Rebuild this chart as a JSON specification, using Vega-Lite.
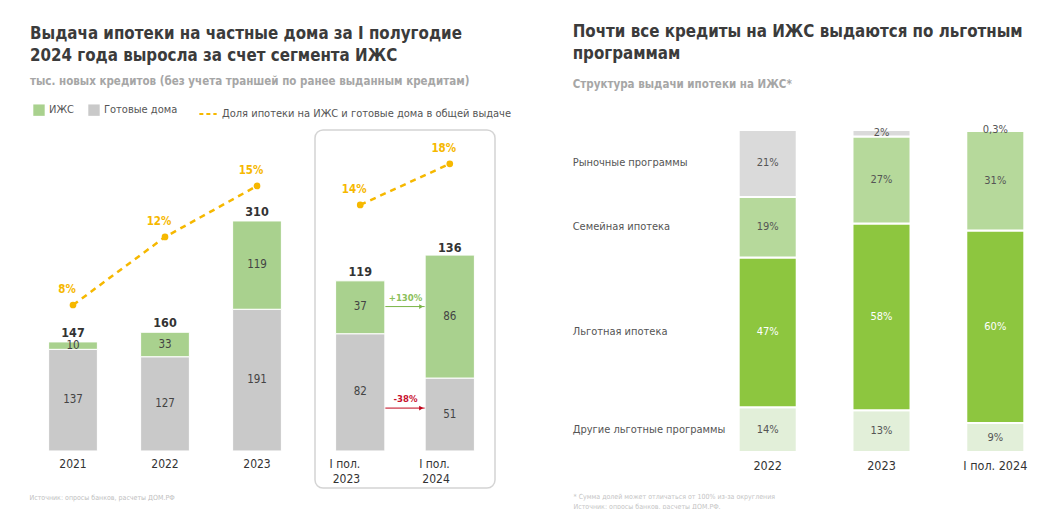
{
  "$schema": "https://vega.github.io/schema/vega-lite/v6.json",
  "padding": {"left": 27, "top": 24, "right": 0, "bottom": 0},
  "background": "white",
  "config": {
    "font": "DejaVu Sans Condensed",
    "view": {"stroke": null},
    "locale": {"number": {"decimal": ",", "thousands": "\u00a0", "grouping": [3], "currency": ["", " ₽"]}},
    "axis": {"labelFont": "DejaVu Sans Condensed", "titleFont": "DejaVu Sans Condensed"},
    "legend": {"labelFont": "DejaVu Sans Condensed", "labelLimit": 400, "offset": 4, "padding": 6},
    "title": {"font": "DejaVu Sans Condensed", "subtitleFont": "DejaVu Sans Condensed"},
    "text": {"font": "DejaVu Sans Condensed"}
  },
  "datasets": {
    "volumes": [
      {"period": "2021", "group": "year", "type": "Готовые дома", "value": 137},
      {"period": "2021", "group": "year", "type": "ИЖС", "value": 10},
      {"period": "2022", "group": "year", "type": "Готовые дома", "value": 127},
      {"period": "2022", "group": "year", "type": "ИЖС", "value": 33},
      {"period": "2023", "group": "year", "type": "Готовые дома", "value": 191},
      {"period": "2023", "group": "year", "type": "ИЖС", "value": 119},
      {"period": "I пол. 2023", "group": "half", "type": "Готовые дома", "value": 82},
      {"period": "I пол. 2023", "group": "half", "type": "ИЖС", "value": 37},
      {"period": "I пол. 2024", "group": "half", "type": "Готовые дома", "value": 51},
      {"period": "I пол. 2024", "group": "half", "type": "ИЖС", "value": 86}
    ],
    "totals": [
      {"period": "2021", "group": "year", "total": 147, "share": 0.08},
      {"period": "2022", "group": "year", "total": 160, "share": 0.12},
      {"period": "2023", "group": "year", "total": 310, "share": 0.15},
      {"period": "I пол. 2023", "group": "half", "total": 119, "share": 0.14},
      {"period": "I пол. 2024", "group": "half", "total": 136, "share": 0.18}
    ],
    "changes": [
      {"from": "I пол. 2023", "to": "I пол. 2024", "label": "+130%", "change": 130, "level": 101},
      {"from": "I пол. 2023", "to": "I пол. 2024", "label": "-38%", "change": -38, "level": 30}
    ],
    "structure": [
      {"period": "2022", "type": "Другие льготные программы", "rank": 1, "share": 0.14},
      {"period": "2022", "type": "Льготная ипотека", "rank": 2, "share": 0.47},
      {"period": "2022", "type": "Семейная ипотека", "rank": 3, "share": 0.19},
      {"period": "2022", "type": "Рыночные программы", "rank": 4, "share": 0.21},
      {"period": "2023", "type": "Другие льготные программы", "rank": 1, "share": 0.13},
      {"period": "2023", "type": "Льготная ипотека", "rank": 2, "share": 0.58},
      {"period": "2023", "type": "Семейная ипотека", "rank": 3, "share": 0.27},
      {"period": "2023", "type": "Рыночные программы", "rank": 4, "share": 0.02},
      {"period": "I пол. 2024", "type": "Другие льготные программы", "rank": 1, "share": 0.09},
      {"period": "I пол. 2024", "type": "Льготная ипотека", "rank": 2, "share": 0.60},
      {"period": "I пол. 2024", "type": "Семейная ипотека", "rank": 3, "share": 0.31},
      {"period": "I пол. 2024", "type": "Рыночные программы", "rank": 4, "share": 0.003}
    ]
  },
  "spacing": 54,
  "resolve": {"scale": {"color": "independent", "stroke": "independent"}, "legend": {"color": "independent", "stroke": "independent"}},
  "hconcat": [
    {
      "title": {
        "text": ["Выдача ипотеки на частные дома за I полугодие", "2024 года выросла за счет сегмента ИЖС"],
        "subtitle": "тыс. новых кредитов (без учета траншей по ранее выданным кредитам)",
        "anchor": "start", "frame": "bounds", "dx": 3,
        "fontSize": 16.8, "fontWeight": "bold", "color": "#3b3b3b", "lineHeight": 22,
        "subtitleFontSize": 11.5, "subtitleFontWeight": "bold", "subtitleColor": "#a6a6a6", "subtitlePadding": 11,
        "offset": 11
      },
      "spacing": 11,
      "hconcat": [
        {
          "width": 276, "height": 358,
          "resolve": {"scale": {"y": "independent"}},
          "layer": [
            {
              "layer": [
                {
                  "data": {"name": "volumes"},
                  "transform": [{"filter": "datum.group == 'year'"}],
                  "layer": [
                    {
                      "mark": {"type": "bar", "stroke": "white", "strokeWidth": 1},
                      "encoding": {
                        "x": {"field": "period", "type": "nominal", "sort": null,
                          "scale": {"domain": ["2021", "2022", "2023"], "paddingInner": 0.47, "paddingOuter": 0.235},
                          "axis": {"orient": "bottom", "offset": -37, "domain": false, "ticks": false, "labelPadding": 7, "labelFontSize": 12, "labelColor": "#333", "labelAngle": 0,
                            "title": "Источник: опросы банков, расчеты ДОМ.РФ", "titleFontSize": 7, "titleColor": "#c0c0c0", "titleFontWeight": "normal", "titleAnchor": "start", "titleAlign": "left", "titleX": 2, "titleY": 42, "titleBaseline": "top"}},
                        "y": {"field": "value", "type": "quantitative", "stack": "zero", "scale": {"domain": [-49.9, 432.6]}, "axis": null},
                        "color": {"field": "type", "type": "nominal",
                          "scale": {"domain": ["ИЖС", "Готовые дома"], "range": ["#a9d18e", "#c9c9c9"]},
                          "legend": {"orient": "top", "title": null, "direction": "horizontal", "symbolType": "square", "symbolSize": 130, "symbolStrokeWidth": 0, "labelFontSize": 11, "labelColor": "#555", "columnPadding": 14}},
                        "order": {"field": "type", "sort": "ascending"}
                      }
                    },
                    {
                      "mark": {"type": "text", "fontSize": 11.5, "color": "#444"},
                      "encoding": {
                        "x": {"field": "period", "type": "nominal", "sort": null},
                        "y": {"field": "value", "type": "quantitative", "stack": "zero", "bandPosition": 0.5, "scale": {"domain": [-49.9, 432.6]}},
                        "detail": {"field": "type"},
                        "order": {"field": "type", "sort": "ascending"},
                        "text": {"field": "value", "type": "quantitative"}
                      }
                    }
                  ]
                },
                {
                  "data": {"name": "totals"},
                  "transform": [{"filter": "datum.group == 'year'"}],
                  "mark": {"type": "text", "fontSize": 12.5, "fontWeight": "bold", "color": "#333", "dy": -9},
                  "encoding": {
                    "x": {"field": "period", "type": "nominal", "sort": null},
                    "y": {"field": "total", "type": "quantitative", "scale": {"domain": [-49.9, 432.6]}},
                    "text": {"field": "total", "type": "quantitative"}
                  }
                }
              ]
            },
            {
              "data": {"name": "totals"},
              "transform": [{"filter": "datum.group == 'year'"}],
              "encoding": {
                "x": {"field": "period", "type": "nominal", "sort": null},
                "y": {"field": "share", "type": "quantitative", "scale": {"domain": [-0.0276, 0.1829]}, "axis": null}
              },
              "layer": [
                {
                  "mark": {"type": "line", "strokeDash": [6, 5], "strokeWidth": 2.5},
                  "encoding": {
                    "stroke": {"datum": "Доля ипотеки на ИЖС и готовые дома в общей выдаче", "type": "nominal",
                      "scale": {"range": ["#f6b800"]},
                      "legend": {"orient": "top", "title": null, "symbolType": "stroke", "symbolDash": [4, 3], "symbolStrokeWidth": 2, "symbolSize": 300, "labelFontSize": 11, "labelColor": "#555"}}
                  }
                },
                {"mark": {"type": "point", "filled": true, "size": 45, "color": "#f6b800", "opacity": 1}, "encoding": {}},
                {
                  "mark": {"type": "text", "color": "#f6b800", "fontWeight": "bold", "fontSize": 11.5, "dx": -6, "dy": -15},
                  "encoding": {"text": {"field": "share", "type": "quantitative", "format": ".0%"}}
                }
              ]
            }
          ]
        },
        {
          "width": 180, "height": 358,
          "view": {"stroke": "#d4d4d4", "strokeWidth": 1.5, "cornerRadius": 8},
          "resolve": {"scale": {"y": "independent"}},
          "layer": [
            {
              "layer": [
                {
                  "data": {"name": "changes"},
                  "mark": {"type": "rule", "strokeWidth": 1},
                  "encoding": {
                    "x": {"field": "from", "type": "nominal", "sort": null},
                    "x2": {"field": "to"},
                    "y": {"field": "level", "type": "quantitative", "scale": {"domain": [-25.9, 224.5]}},
                    "color": {"condition": {"test": "datum.change > 0", "value": "#7ab547"}, "value": "#c00018"}
                  }
                },
                {
                  "data": {"name": "changes"},
                  "mark": {"type": "point", "shape": "triangle-right", "filled": true, "size": 22, "opacity": 1},
                  "encoding": {
                    "x": {"field": "to", "type": "nominal", "sort": null, "bandPosition": -0.08},
                    "y": {"field": "level", "type": "quantitative", "scale": {"domain": [-25.9, 224.5]}},
                    "color": {"condition": {"test": "datum.change > 0", "value": "#7ab547"}, "value": "#c00018"}
                  }
                },
                {
                  "data": {"name": "changes"},
                  "mark": {"type": "text", "fontSize": 9.5, "fontWeight": "bold", "dy": -9},
                  "encoding": {
                    "x": {"field": "from", "type": "nominal", "sort": null, "bandPosition": 1.42},
                    "y": {"field": "level", "type": "quantitative", "scale": {"domain": [-25.9, 224.5]}},
                    "text": {"field": "label"},
                    "color": {"condition": {"test": "datum.change > 0", "value": "#8cbf5a"}, "value": "#c8102e"}
                  }
                },
                {
                  "data": {"name": "volumes"},
                  "transform": [{"filter": "datum.group == 'half'"}],
                  "layer": [
                    {
                      "mark": {"type": "bar", "stroke": "white", "strokeWidth": 1},
                      "encoding": {
                        "x": {"field": "period", "type": "nominal", "sort": null,
                          "scale": {"domain": ["I пол. 2023", "I пол. 2024"], "paddingInner": 0.45, "paddingOuter": 0.23},
                          "axis": {"orient": "bottom", "offset": -37, "domain": false, "ticks": false, "labelPadding": 12, "labelFontSize": 12, "labelColor": "#333", "labelAngle": 0, "labelLineHeight": 15,
                            "labelExpr": "length(datum.label) > 6 ? [substring(datum.label, 0, 6), substring(datum.label, 7)] : datum.label",
                            "title": null}},
                        "y": {"field": "value", "type": "quantitative", "stack": "zero", "scale": {"domain": [-25.9, 224.5]}, "axis": null},
                        "color": {"field": "type", "type": "nominal",
                          "scale": {"domain": ["ИЖС", "Готовые дома"], "range": ["#a9d18e", "#c9c9c9"]},
                          "legend": {"orient": "top", "title": null, "direction": "horizontal", "symbolType": "square", "symbolSize": 130, "symbolStrokeWidth": 0, "labelFontSize": 11, "labelColor": "#555", "columnPadding": 14}},
                        "order": {"field": "type", "sort": "ascending"}
                      }
                    },
                    {
                      "mark": {"type": "text", "fontSize": 11.5, "color": "#444"},
                      "encoding": {
                        "x": {"field": "period", "type": "nominal", "sort": null},
                        "y": {"field": "value", "type": "quantitative", "stack": "zero", "bandPosition": 0.5, "scale": {"domain": [-25.9, 224.5]}},
                        "detail": {"field": "type"},
                        "order": {"field": "type", "sort": "ascending"},
                        "text": {"field": "value", "type": "quantitative"}
                      }
                    }
                  ]
                },
                {
                  "data": {"name": "totals"},
                  "transform": [{"filter": "datum.group == 'half'"}],
                  "mark": {"type": "text", "fontSize": 12.5, "fontWeight": "bold", "color": "#333", "dy": -9},
                  "encoding": {
                    "x": {"field": "period", "type": "nominal", "sort": null},
                    "y": {"field": "total", "type": "quantitative", "scale": {"domain": [-25.9, 224.5]}},
                    "text": {"field": "total", "type": "quantitative"}
                  }
                }
              ]
            },
            {
              "data": {"name": "totals"},
              "transform": [{"filter": "datum.group == 'half'"}],
              "encoding": {
                "x": {"field": "period", "type": "nominal", "sort": null},
                "y": {"field": "share", "type": "quantitative", "scale": {"domain": [-0.136, 0.213]}, "axis": null}
              },
              "layer": [
                {
                  "mark": {"type": "line", "strokeDash": [6, 5], "strokeWidth": 2.5},
                  "encoding": {
                    "stroke": {"datum": "Доля ипотеки на ИЖС и готовые дома в общей выдаче", "type": "nominal",
                      "scale": {"range": ["#f6b800"]},
                      "legend": {"orient": "top", "title": null, "symbolType": "stroke", "symbolDash": [4, 3], "symbolStrokeWidth": 2, "symbolSize": 300, "labelFontSize": 11, "labelColor": "#555"}}
                  }
                },
                {"mark": {"type": "point", "filled": true, "size": 45, "color": "#f6b800", "opacity": 1}, "encoding": {}},
                {
                  "mark": {"type": "text", "color": "#f6b800", "fontWeight": "bold", "fontSize": 11.5, "dx": -6, "dy": -15},
                  "encoding": {"text": {"field": "share", "type": "quantitative", "format": ".0%"}}
                }
              ]
            }
          ]
        }
      ]
    },
    {
      "title": {
        "text": ["Почти все кредиты на ИЖС выдаются по льготным", "программам"],
        "subtitle": "Структура выдачи ипотеки на ИЖС*",
        "anchor": "start", "frame": "bounds",
        "fontSize": 16.8, "fontWeight": "bold", "color": "#3b3b3b", "lineHeight": 22,
        "subtitleFontSize": 11.5, "subtitleFontWeight": "bold", "subtitleColor": "#a6a6a6", "subtitlePadding": 16,
        "offset": 34
      },
      "width": 297, "height": 322,
      "data": {"name": "structure"},
      "encoding": {
        "x": {"field": "period", "type": "nominal", "sort": null,
          "scale": {"domain": ["2022", "2023", "I пол. 2024"], "paddingInner": 0.49, "paddingOuter": 0.05},
          "axis": {"domain": false, "ticks": false, "labelAngle": 0, "labelFontSize": 12.5, "labelColor": "#333", "labelPadding": 7,
            "title": ["* Сумма долей может отличаться от 100% из-за округления", "Источник: опросы банков, расчеты ДОМ.РФ."],
            "titleFontSize": 7, "titleColor": "#c4c4c4", "titleFontWeight": "normal", "titleAnchor": "start", "titleAlign": "left", "titleBaseline": "top", "titleX": -160, "titleY": 40, "titleLineHeight": 10}}
      },
      "layer": [
        {
          "mark": {"type": "bar", "stroke": "white", "strokeWidth": 2},
          "encoding": {
            "y": {"field": "share", "type": "quantitative", "stack": "normalize", "axis": null},
            "color": {"field": "type", "type": "nominal",
              "scale": {"domain": ["Рыночные программы", "Семейная ипотека", "Льготная ипотека", "Другие льготные программы"], "range": ["#dadada", "#b6d99b", "#8dc63f", "#e2efd9"]},
              "legend": null},
            "order": {"field": "rank", "type": "quantitative"}
          }
        },
        {
          "mark": {"type": "text", "fontSize": 11},
          "encoding": {
            "y": {"field": "share", "type": "quantitative", "stack": "normalize", "bandPosition": 0.5},
            "detail": {"field": "type"},
            "order": {"field": "rank", "type": "quantitative"},
            "text": {"field": "share", "type": "quantitative", "format": ".1~%"},
            "color": {"condition": {"test": "datum.type == 'Льготная ипотека'", "value": "white"}, "value": "#555"}
          }
        },
        {
          "transform": [{"filter": "datum.period == '2022'"}],
          "mark": {"type": "text", "align": "left", "dx": -166, "fontSize": 11, "color": "#555"},
          "encoding": {
            "x": {"field": "period", "type": "nominal", "sort": null, "bandPosition": 0},
            "y": {"field": "share", "type": "quantitative", "stack": "normalize", "bandPosition": 0.5},
            "detail": {"field": "type"},
            "order": {"field": "rank", "type": "quantitative"},
            "text": {"field": "type"}
          }
        }
      ]
    }
  ]
}
